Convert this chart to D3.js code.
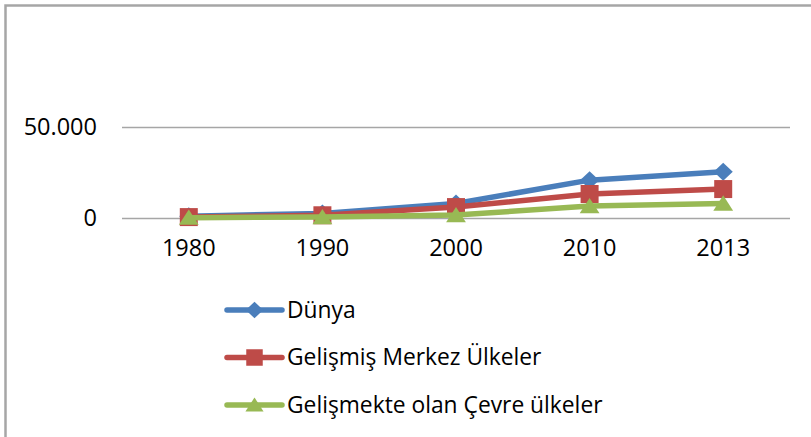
<!DOCTYPE html>
<html>
<head>
<meta charset="utf-8">
<script src="https://cdn.jsdelivr.net/npm/d3@7"></script>
<style>
  body { margin: 0; background: #fff; }
  svg { display: block; font-family: "Open Sans", "Noto Sans", sans-serif; }
</style>
</head>
<body>
<svg width="811" height="437"></svg>
<script>
const years = ['1980', '1990', '2000', '2010', '2013']
const dunya = [1000, 2500, 8000, 20800, 25400]
const merkez = [500, 1500, 6000, 13200, 15900]
const cevre = [200, 500, 1600, 6600, 8000]
const seriesNames = ['Dünya', 'Gelişmiş Merkez Ülkeler', 'Gelişmekte olan Çevre ülkeler']
const yTicks = [0, 50000]

const series = [
    { name: seriesNames[0], values: dunya, color: '#4a7ebb', marker: 'diamond' },
    { name: seriesNames[1], values: merkez, color: '#be4b48', marker: 'square' },
    { name: seriesNames[2], values: cevre, color: '#98b954', marker: 'triangle' }
]

const svg = d3.select('svg')
const margin = { top: 36, right: 21, bottom: 219, left: 122 }
const width = svg.attr('width') - margin.left - margin.right
const height = svg.attr('height') - margin.top - margin.bottom
const font = '"Open Sans", "Noto Sans", sans-serif'

// outer frame (only top and left edges visible)
svg.append('path')
    .attr('d', 'M5.5,437 L5.5,5.5 L811,5.5')
    .attr('fill', 'none')
    .attr('stroke', '#a6a6a6')
    .attr('stroke-width', 2.5)

const g = svg.append('g')
    .attr('transform', `translate(${margin.left},${margin.top})`)

const x = d3.scaleBand().domain(years).range([0, width])
const y = d3.scaleLinear().domain([0, 100000]).range([height, 0])

const fmt = d => d3.format(',')(d).replace(/,/g, '.')

// gridlines
g.selectAll('.grid')
    .data(yTicks)
    .enter().append('line')
    .attr('x1', 0).attr('x2', width)
    .attr('y1', d => Math.round(y(d)) + 0.5)
    .attr('y2', d => Math.round(y(d)) + 0.5)
    .attr('stroke', '#a6a6a6')
    .attr('stroke-width', 1.5)

const yAxis = g.append('g')
    .call(d3.axisLeft(y).tickValues(yTicks).tickFormat(fmt).tickSize(0).tickPadding(25))
yAxis.attr('font-family', font)
yAxis.select('.domain').remove()
yAxis.selectAll('text').attr('font-size', 23.5).attr('fill', '#000')

const xAxis = g.append('g')
    .attr('transform', `translate(0,${height})`)
    .call(d3.axisBottom(x).tickSize(0).tickPadding(21))
xAxis.attr('font-family', font)
xAxis.select('.domain').remove()
xAxis.selectAll('text').attr('font-size', 23.5).attr('fill', '#000')

const symbolFor = (m, s) => {
    if (m === 'diamond') return `M0,${-s * 0.5}L${s * 0.53},0L0,${s * 0.5}L${-s * 0.53},0Z`
    if (m === 'square') return `M${-s / 2},${-s / 2}h${s}v${s}h${-s}Z`
    return `M0,${-s * 0.45}L${s * 0.55},${s * 0.4}L${-s * 0.55},${s * 0.4}Z`
}

const line = d3.line()
    .x((d, i) => x(years[i]) + x.bandwidth() / 2)
    .y(d => y(d))

series.forEach(s => {
    g.append('path')
        .datum(s.values)
        .attr('d', line)
        .attr('fill', 'none')
        .attr('stroke', s.color)
        .attr('stroke-width', 5.5)
        .attr('stroke-linejoin', 'round')

    g.selectAll(null)
        .data(s.values)
        .enter().append('path')
        .attr('d', symbolFor(s.marker, 18))
        .attr('transform', (d, i) => `translate(${x(years[i]) + x.bandwidth() / 2},${y(d)})`)
        .attr('fill', s.color)
})

// legend
const legend = svg.append('g')
    .attr('transform', 'translate(227,310)')

const item = legend.selectAll('.item')
    .data(series)
    .enter().append('g')
    .attr('transform', (d, i) => `translate(0,${i * 47.5})`)

item.append('line')
    .attr('x1', 0).attr('x2', 55)
    .attr('stroke', d => d.color)
    .attr('stroke-width', 5.5)
    .attr('stroke-linecap', 'round')

item.append('path')
    .attr('d', d => symbolFor(d.marker, 16.5))
    .attr('transform', 'translate(27.5,0)')
    .attr('fill', d => d.color)

item.append('text')
    .attr('x', 60)
    .attr('dy', '0.35em')
    .attr('font-size', 22.8)
    .text(d => d.name)
</script>
</body>
</html>
